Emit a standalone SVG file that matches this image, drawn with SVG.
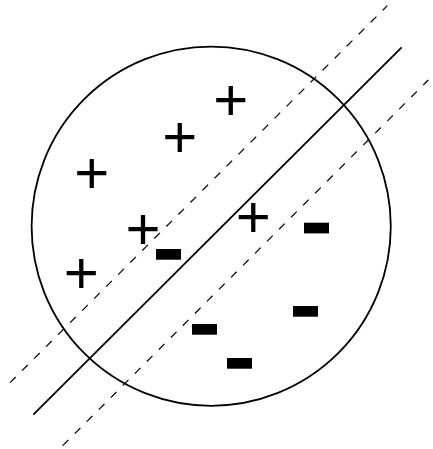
<svg xmlns="http://www.w3.org/2000/svg" width="433" height="449" viewBox="0 0 433 449">
<style>
.plus{font-family:"Liberation Sans",Arial,sans-serif;font-size:60px;text-anchor:middle;fill:#000}
.minus{fill:#000}
.solid{stroke:#000;stroke-width:1.8;fill:none}
.dash{stroke:#000;stroke-width:1.2;fill:none;stroke-dasharray:8 9}
</style>
<rect width="433" height="449" fill="#fff"/>
<g id="circle"><circle cx="211.2" cy="226.2" r="179.6" class="solid"/></g>
<g id="connectors">
<line x1="33.3" y1="414.7" x2="401.7" y2="47.3" class="solid"/>
<line x1="10" y1="382.7" x2="387.3" y2="5.7" class="dash"/>
<line x1="62.7" y1="445.7" x2="428.3" y2="80" class="dash"/>
</g>
<g id="p1"><text class="plus" x="230.7" y="119.6">+</text></g>
<g id="p2"><text class="plus" x="179.7" y="157.3">+</text></g>
<g id="p3"><text class="plus" x="91.7" y="193.3">+</text></g>
<g id="p4"><text class="plus" x="143" y="248.9">+</text></g>
<g id="p5"><text class="plus" x="253.3" y="236.9">+</text></g>
<g id="p6"><text class="plus" x="81.3" y="293.3">+</text></g>
<g id="m1"><rect class="minus" x="156" y="249" width="25" height="10.7"/></g>
<g id="m2"><rect class="minus" x="304" y="222.7" width="25" height="10.7"/></g>
<g id="m3"><rect class="minus" x="192" y="324" width="25" height="10.7"/></g>
<g id="m4"><rect class="minus" x="293" y="306" width="25" height="10.7"/></g>
<g id="m5"><rect class="minus" x="227" y="358" width="25" height="10.7"/></g>
</svg>
